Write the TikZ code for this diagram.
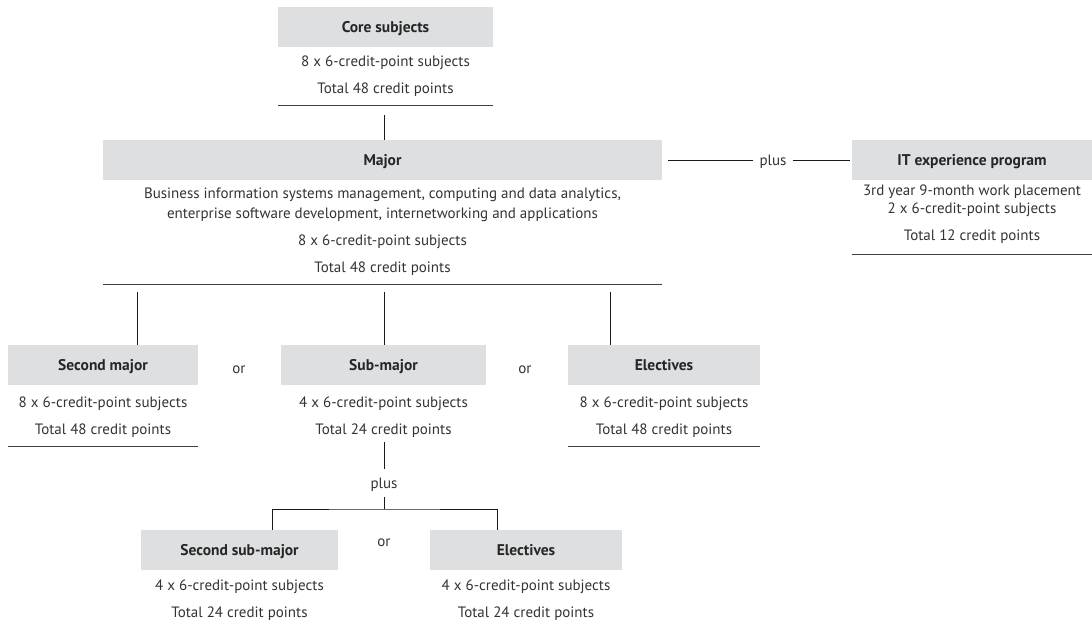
\documentclass[tikz,border=0pt]{standalone}
\usepackage{fontspec}
\setmainfont{PT Sans}
\begin{document}
\begin{tikzpicture}[x=1pt,y=-1pt,
  hdr/.style={fill=boxgray, minimum height=40pt, inner sep=0pt, font=\bfseries\fontsize{15.5}{17}\selectfont, text=black!85, text height=11pt, text depth=0pt},
  para/.style={inner sep=0pt, font=\fontsize{15}{20}\selectfont, text=black!80, align=center},
  txt/.style={para, text height=10.5pt, text depth=0pt},
  rule/.style={draw=black!75, line width=1pt},
  link/.style={draw=black!90, line width=0.8pt}]
\definecolor{boxgray}{HTML}{DEDFE0}
\useasboundingbox (0,0) rectangle (1092,626);

% Core subjects
\node[hdr, minimum width=215pt] (core) at (385.5,27) {Core subjects};
\node[txt] (core1) at (385.5,61) {8 x 6-credit-point subjects};
\node[txt] (core2) at (385.5,88) {Total 48 credit points};
\coordinate (coreL) at (278,105);
\coordinate (coreR) at (493,105);
\draw[rule] (coreL) -- (coreR);

% Major
\node[hdr, minimum width=559pt] (major) at (382.5,160) {Major};
\node[para] (major1) at (382.5,205) {Business information systems management, computing and data analytics,\\enterprise software development, internetworking and applications};
\node[txt] (major2) at (382.5,240) {8 x 6-credit-point subjects};
\node[txt] (major3) at (382.5,267) {Total 48 credit points};
\coordinate (majL) at (103,284);
\coordinate (majR) at (662,284);
\draw[rule] (majL) -- (majR);

\coordinate (coreDrop) at (384,115);
\draw[link] (coreDrop) -- (384,140);

% IT experience program
\node[hdr, minimum width=240pt] (itx) at (972,160) {IT experience program};
\node[txt] (itx1) at (972,190) {3rd year 9-month work placement};
\node[txt] (itx2) at (972,208) {2 x 6-credit-point subjects};
\node[txt] (itx3) at (972,235) {Total 12 credit points};
\coordinate (itL) at (852,254);
\coordinate (itR) at (1092,254);
\draw[rule] (itL) -- (itR);

\node[txt] (plusA) at (773,160) {plus};
\draw[link] ([xshift=6pt]major.east) -- ([xshift=-6pt]plusA.west);
\draw[link] ([xshift=6pt]plusA.east) -- ([xshift=-2pt]itx.west);

% Second level
\node[hdr, minimum width=190pt] (second) at (103,365) {Second major};
\node[txt] (second1) at (103,402) {8 x 6-credit-point subjects};
\node[txt] (second2) at (103,429) {Total 48 credit points};
\coordinate (secL) at (8,446);
\coordinate (secR) at (198,446);
\draw[rule] (secL) -- (secR);

\node[hdr, minimum width=205pt] (sub) at (383.5,365) {Sub-major};
\node[txt] (sub1) at (383.5,402) {4 x 6-credit-point subjects};
\node[txt] (sub2) at (383.5,429) {Total 24 credit points};

\node[hdr, minimum width=192pt] (elec) at (664,365) {Electives};
\node[txt] (elec1) at (664,402) {8 x 6-credit-point subjects};
\node[txt] (elec2) at (664,429) {Total 48 credit points};
\coordinate (elL) at (568,446);
\coordinate (elR) at (760,446);
\draw[rule] (elL) -- (elR);

\node[txt] (orA) at (239,368) {or};
\node[txt] (orB) at (525,368) {or};

\coordinate (d1) at (137,292);
\coordinate (d2) at (384,292);
\coordinate (d3) at (610,292);
\draw[link] (d1) -- (d1 |- second.north);
\draw[link] (d2) -- (d2 |- sub.north);
\draw[link] (d3) -- (d3 |- elec.north);

% Third level
\node[txt] (plusB) at (384,483) {plus};
\coordinate (subDrop) at (384,442);
\draw[link] (subDrop) -- ([yshift=9pt]plusB.north);

\node[hdr, minimum width=197pt] (ssub) at (239.5,550) {Second sub-major};
\node[txt] (ssub1) at (239.5,585) {4 x 6-credit-point subjects};
\node[txt] (ssub2) at (239.5,612) {Total 24 credit points};

\node[hdr, minimum width=192pt] (elec2b) at (526,550) {Electives};
\node[txt] (elec2b1) at (526,585) {4 x 6-credit-point subjects};
\node[txt] (elec2b2) at (526,612) {Total 24 credit points};

\node[txt] (orC) at (384,541) {or};

\coordinate (fork) at (384,509);
\draw[link] ([yshift=-9pt]plusB.south) -- (fork);
\draw[link] (272,530) |- (fork) -| (497,530);
\end{tikzpicture}
\end{document}
